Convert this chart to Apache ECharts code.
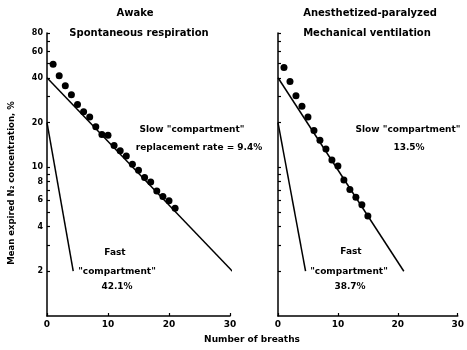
<!DOCTYPE html>
<html>
<head>
<meta charset="utf-8">
<script src="https://cdn.jsdelivr.net/npm/echarts@6/dist/echarts.min.js"></script>
<style>html,body{margin:0;padding:0;background:#fff}#c{width:467px;height:350px}</style>
</head>
<body>
<div id="c"></div>
<script>
// ---- data ----
const awakeBreaths = [1,2,3,4,5,6,7,8,9,10,11,12,13,14,15,16,17,18,19,20,21];
const awakeValues = [49.4,41.2,35.3,30.8,26.4,23.6,21.8,18.7,16.6,16.4,14.0,12.9,11.9,10.5,9.55,8.53,7.97,6.94,6.37,5.95,5.3];
const awakeSlowBreaths = [0, 30.4];
const awakeSlowValues = [40, 2];
const awakeFastBreaths = [0, 4.3];
const awakeFastValues = [20, 2];

const anesBreaths = [1,2,3,4,5,6,7,8,9,10,11,12,13,14,15];
const anesValues = [46.9,37.8,30.3,25.7,21.8,17.7,15.2,13.3,11.2,10.2,8.2,7.1,6.3,5.6,4.7];
const anesSlowBreaths = [0, 21.0];
const anesSlowValues = [40, 2];
const anesFastBreaths = [0, 4.6];
const anesFastValues = [20, 2];

const xTicks = [0, 10, 20, 30];
const yLabelValues = [2,4,6,8,10,20,40,60,80];
const yTickValues = [2,3,4,5,6,7,8,9,10,20,30,40,50,60,70,80];

const zip = (a, b) => a.map((v, i) => [v, b[i]]);

const FONT = '"DejaVu Sans", sans-serif';
const chart = echarts.init(document.getElementById('c'), null, {renderer: 'canvas'});

function xAx(gi) {
  return {
    type: 'value', gridIndex: gi, min: 0, max: 30, interval: 10,
    axisLine: {lineStyle: {color: '#000', width: 1.5}},
    axisTick: {inside: true, length: 3, customValues: xTicks, lineStyle: {color: '#000', width: 1.2}},
    axisLabel: {color: '#000', customValues: xTicks, fontFamily: FONT, fontWeight: 'bold', fontSize: 9, margin: 4},
    splitLine: {show: false}
  };
}
function yAx(gi, showLabels) {
  return {
    type: 'log', logBase: 10, gridIndex: gi, min: 1, max: 80,
    axisLine: {lineStyle: {color: '#000', width: 1.5}},
    axisTick: {inside: true, length: 3, customValues: yTickValues, lineStyle: {color: '#000', width: 1.2}},
    axisLabel: {show: showLabels, customValues: yLabelValues, color: '#000', fontFamily: FONT, fontWeight: 'bold', fontSize: 8, margin: 4},
    splitLine: {show: false},
    minorTick: {show: false}
  };
}
function lineSeries(xi, data) {
  return {type: 'line', xAxisIndex: xi, yAxisIndex: xi, data: data, symbol: 'none',
    lineStyle: {color: '#000', width: 1.5}, silent: true, animation: false};
}
function dotSeries(xi, data) {
  return {type: 'scatter', xAxisIndex: xi, yAxisIndex: xi, data: data, symbol: 'circle', symbolSize: 7,
    itemStyle: {color: '#000', opacity: 1}, silent: true, animation: false};
}
function txt(t, x, y, size, rot) {
  return {type: 'text', x: x, y: y, rotation: rot || 0,
    style: {text: t, fill: '#000', font: 'bold ' + (size || 9) + 'px ' + FONT, textAlign: 'center', textVerticalAlign: 'middle'}};
}

chart.setOption({
  backgroundColor: '#fff',
  animation: false,
  grid: [
    {left: 47, top: 33, width: 183, height: 283},
    {left: 278, top: 33, width: 182, height: 283}
  ],
  xAxis: [xAx(0), xAx(1)],
  yAxis: [yAx(0, true), yAx(1, false)],
  series: [
    lineSeries(0, zip(awakeSlowBreaths, awakeSlowValues)),
    lineSeries(0, zip(awakeFastBreaths, awakeFastValues)),
    dotSeries(0, zip(awakeBreaths, awakeValues)),
    lineSeries(1, zip(anesSlowBreaths, anesSlowValues)),
    lineSeries(1, zip(anesFastBreaths, anesFastValues)),
    dotSeries(1, zip(anesBreaths, anesValues))
  ],
  graphic: [
    txt('Awake', 135, 13, 10),
    txt('Spontaneous respiration', 139, 33, 10),
    txt('Anesthetized-paralyzed', 370, 13, 10),
    txt('Mechanical ventilation', 367, 33, 10),
    txt('Slow "compartment"', 192, 130, 9),
    txt('replacement rate = 9.4%', 199, 148, 9),
    txt('Slow "compartment"', 408, 130, 9),
    txt('13.5%', 409, 148, 9),
    txt('Fast', 115, 253, 9),
    txt('"compartment"', 117, 272, 9),
    txt('42.1%', 117, 287, 9),
    txt('Fast', 351, 252, 9),
    txt('"compartment"', 349, 272, 9),
    txt('38.7%', 350, 287, 9),
    txt('Number of breaths', 252, 340, 9),
    txt('Mean expired N\u2082 concentration, %', 12, 183, 8.5, Math.PI / 2)
  ]
});
</script>
</body>
</html>
